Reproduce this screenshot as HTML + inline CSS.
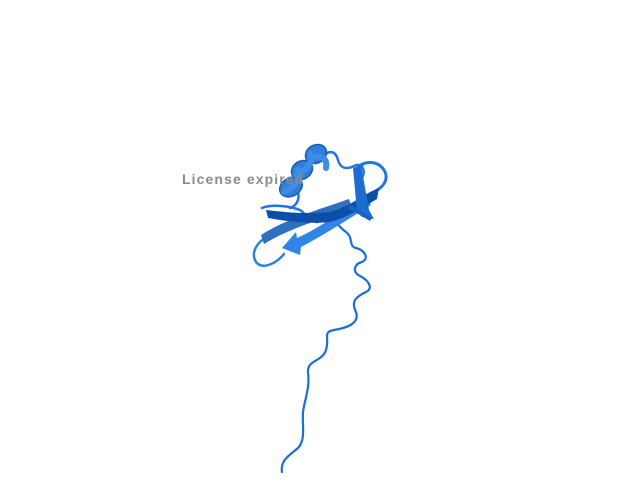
<!DOCTYPE html>
<html><head><meta charset="utf-8"><style>
html,body{margin:0;padding:0;background:#fff;width:640px;height:480px;overflow:hidden}
svg{display:block}
</style></head><body>
<svg width="640" height="480" viewBox="0 0 640 480">
<g fill="none" stroke-linecap="round" stroke-linejoin="round">
<path d="M282,472 C280,460 290,455 298,448 C306,440 302,425 303,412 C305,398 310,388 308,372 C307,360 322,362 326,350 C330,338 322,332 334,330 C346,328 360,324 356,312 C350,300 358,296 366,292 C374,288 368,280 360,276 C352,272 354,264 362,262 C370,258 364,250 356,248 C348,246 354,238 346,232 C340,228 336,222 330,216" stroke="#1a6fd4" stroke-width="2.2"/>
<path d="M322,158 C330,148 336,152 338,160 C340,168 346,170 354,166 C362,162 366,170 362,178" stroke="#1f78e0" stroke-width="2.5"/>
<path d="M356,170 C362,160 378,160 384,170 C390,180 382,188 374,192" stroke="#1f78e0" stroke-width="3"/>
<path d="M270,236 C258,240 250,252 256,262 C262,270 276,264 284,254" stroke="#2a80e4" stroke-width="2.5"/>
<path d="M262,208 C272,204 290,206 300,210 C306,214 310,222 318,222" stroke="#1f78e0" stroke-width="2.5"/>
<path d="M298,192 C300,200 296,206 290,208" stroke="#1f78e0" stroke-width="2.5"/>
<g>
<ellipse cx="291" cy="187" rx="12" ry="9" fill="#2f7fd8" stroke="#1a5fb0" stroke-width="1.5" transform="rotate(-30 291 187)"/>
<ellipse cx="302" cy="170" rx="11" ry="9" fill="#2f7fd8" stroke="#1a5fb0" stroke-width="1.5" transform="rotate(-30 302 170)"/>
<ellipse cx="316" cy="154" rx="11" ry="9" fill="#2f7fd8" stroke="#1a5fb0" stroke-width="1.5" transform="rotate(-30 316 154)"/>
<path d="M284,192 C296,186 302,178 298,170 M296,175 C308,169 314,161 310,154 M310,158 C320,154 328,158 326,168" stroke="#3d8ce6" stroke-width="6"/>
</g>
</g>
<g>
<path d="M264,244 C290,228 320,220 352,208 L349,199 C318,210 288,218 261,235 Z" fill="#2d6fc0"/>
<path d="M282,248 L296,232 L297,238 C320,228 340,212 366,196 L371,205 C344,222 322,236 301,247 L300,255 Z" fill="#2f86e6"/>
<path d="M266,210 C290,213 310,214 330,212 C345,208 360,198 370,192 L379,188 L377,199 C362,208 346,218 330,222 C310,224 290,222 268,218 Z" fill="#0d4fa8"/>
<path d="M353,168 L361,165 L369,210 L374,219 L362,217 L357,212 Z" fill="#1d6cd0"/>
<path d="M350,204 L372,218 L370,221 L348,208 Z" fill="#1a62c0"/>
</g>
<text x="182" y="184" font-family="Liberation Sans, DejaVu Sans, sans-serif" font-size="14" font-weight="bold" fill="#8a8a8a" letter-spacing="1.1">License expired</text>
</svg>
</body></html>
